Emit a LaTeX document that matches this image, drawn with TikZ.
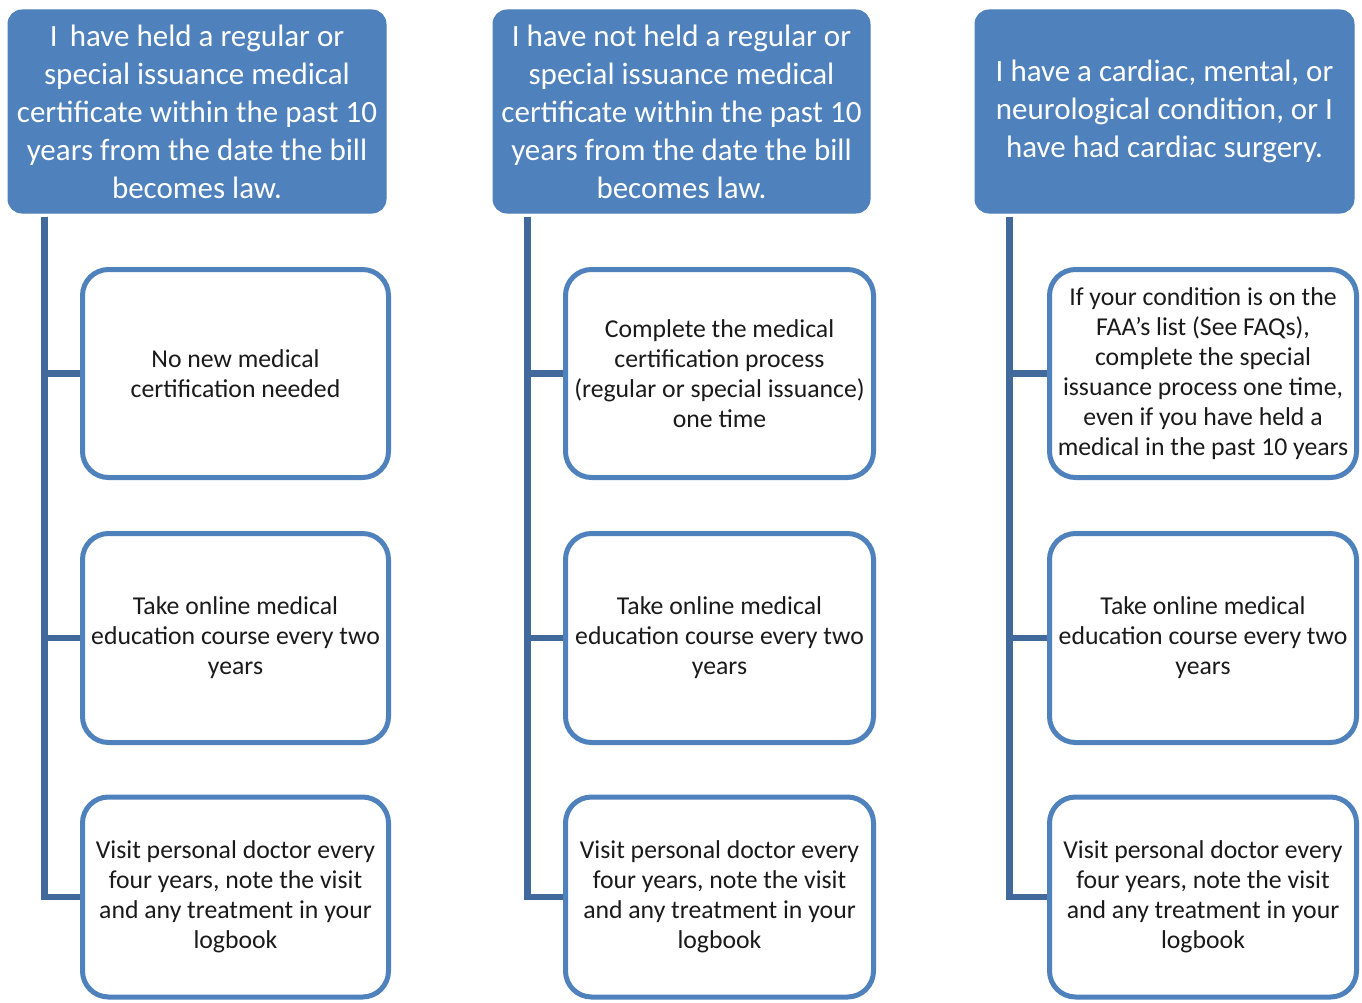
\documentclass[tikz,border=0pt]{standalone}
\usepackage{fontspec}
\setmainfont{Carlito}
\usetikzlibrary{calc}
\definecolor{hdrblue}{HTML}{4F81BD}
\definecolor{linkblue}{HTML}{41699B}
\definecolor{itemtext}{HTML}{1A1A1A}
\newdimen\px \px=0.75pt
\pgfdeclarelayer{background}
\pgfsetlayers{background,main}
\tikzset{
  hdr/.style={draw=hdrblue, fill=hdrblue, line width=1\px, rounded corners=14\px,
    text=white, align=center, font=\fontsize{23.25}{28.5}\selectfont, inner sep=0pt},
  item/.style={draw=hdrblue, fill=white, line width=5\px, rounded corners=26\px,
    text=itemtext, align=center, font=\fontsize{19.3}{22.5}\selectfont, inner sep=0pt},
  conn/.style={draw=linkblue, line width=6.5\px, line join=miter}
}
\begin{document}
\begin{tikzpicture}[x=0.75pt,y=-0.75pt]
\useasboundingbox (0,0) rectangle (1362,1002);
% headers
\node[hdr, minimum width=378\px, minimum height=203\px] (h1) at (197,111.5)
  {I\, have held a regular or\\special issuance medical\\certificate within the past 10\\years from the date the bill\\becomes law.};
\node[hdr, minimum width=377\px, minimum height=203\px] (h2) at (681.5,111.5)
  {I have not held a regular or\\special issuance medical\\certificate within the past 10\\years from the date the bill\\becomes law.};
\node[hdr, minimum width=379\px, minimum height=203\px] (h3) at (1164.5,111.5)
  {I have a cardiac, mental, or\\neurological condition, or I\\have had cardiac surgery.};
% column 1
\node[item, minimum width=306\px, minimum height=208\px] (c11) at (235.5,373.5)
  {No new medical\\certification needed};
\node[item, minimum width=306\px, minimum height=209\px] (c12) at (235.5,638)
  {Take online medical\\education course every two\\years};
\node[item, minimum width=306\px, minimum height=200\px] (c13) at (235.5,897)
  {Visit personal doctor every\\four years, note the visit\\and any treatment in your\\logbook};
% column 2
\node[item, minimum width=308\px, minimum height=208\px] (c21) at (719.5,373.5)
  {Complete the medical\\certification process\\(regular or special issuance)\\one time};
\node[item, minimum width=308\px, minimum height=209\px] (c22) at (719.5,638)
  {Take online medical\\education course every two\\years};
\node[item, minimum width=308\px, minimum height=200\px] (c23) at (719.5,897)
  {Visit personal doctor every\\four years, note the visit\\and any treatment in your\\logbook};
% column 3
\node[item, minimum width=307\px, minimum height=208\px] (c31) at (1203,373.5)
  {If your condition is on the\\FAA's list (See FAQs),\\complete the special\\issuance process one time,\\even if you have held a\\medical in the past 10 years};
\node[item, minimum width=307\px, minimum height=209\px] (c32) at (1203,638)
  {Take online medical\\education course every two\\years};
\node[item, minimum width=307\px, minimum height=200\px] (c33) at (1203,897)
  {Visit personal doctor every\\four years, note the visit\\and any treatment in your\\logbook};
% connectors
\begin{pgfonlayer}{background}
\coordinate (t1) at ($(h1.south west)+(37,3)$);
\coordinate (t2) at ($(h2.south west)+(35,3)$);
\coordinate (t3) at ($(h3.south west)+(35,3)$);
\foreach \c in {1,2,3}{
  \draw[conn] (t\c) |- (c\c3.west);
  \draw[conn] (t\c) |- (c\c2.west);
  \draw[conn] (t\c) |- (c\c1.west);
}
\end{pgfonlayer}
\end{tikzpicture}
\end{document}
